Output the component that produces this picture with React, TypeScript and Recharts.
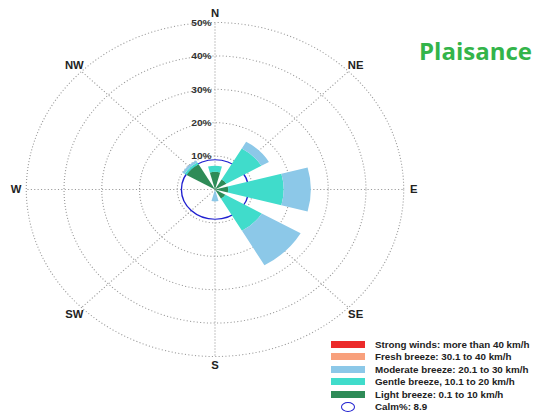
import React from "react";
import {
  RadialBarChart,
  RadialBar,
  PolarGrid,
  PolarAngleAxis,
  PolarRadiusAxis,
  Customized,
} from "recharts";

// wind rose, Plaisance, % of time per direction and speed class
const directions = ["N", "NE", "E", "SE", "S", "SW", "W", "NW"];
const bearings = [0, 45, 90, 135, 180, 225, 270, 315];

const light = [5.3, 3.5, 3.5, 3.2, 0, 0, 0, 8.7];
const gentle = [1.8, 10.7, 14.7, 11.1, 0, 0, 0, 0.6];
const moderate = [0, 2.3, 7.2, 11.9, 3.6, 0, 0, 0.7];
const fresh = [0, 0, 0, 0, 0, 0, 0, 0];
const strong = [0, 0, 0, 0, 0, 0, 0, 0];

const calmPct = 8.9;
const radiusTicks = [10, 20, 30, 40, 50];
const maxPct = 50;

const seriesKeys = ["light", "gentle", "moderate", "fresh", "strong"];
const seriesNames = [
  "Light breeze: 0.1 to 10 km/h",
  "Gentle breeze, 10.1 to 20 km/h",
  "Moderate breeze: 20.1 to 30 km/h",
  "Fresh breeze: 30.1 to 40 km/h",
  "Strong winds: more than 40 km/h",
];
const seriesColors = ["#2e8b57", "#40dccb", "#8cc8e8", "#f8a07c", "#ec2a2a"];

const data = directions.map((dir, i) => ({
  dir,
  bearing: bearings[i],
  light: light[i],
  gentle: gentle[i],
  moderate: moderate[i],
  fresh: fresh[i],
  strong: strong[i],
}));

const CX = 215;
const CY = 189.5;
const OUTER = 167;
const STRETCH = 1.13;
const FONT = "'Liberation Sans', Arial, sans-serif";

const AngleTick = (props: any) => {
  const idx = bearings.indexOf(props.payload.value);
  return (
    <text
      x={props.x}
      y={props.y}
      textAnchor="middle"
      dominantBaseline="central"
      fontSize={10}
      fontWeight="bold"
      fontFamily={FONT}
      fill="#222"
    >
      {directions[idx]}
    </text>
  );
};

const RadiusTick = (props: any) => (
  <text
    x={props.x - 3}
    y={props.y}
    textAnchor="end"
    dominantBaseline="central"
    fontSize={9}
    fontWeight="bold"
    fontFamily={FONT}
    fill="#333"
  >
    {props.payload.value}%
  </text>
);

const CalmCircle = () => (
  <circle
    cx={CX}
    cy={CY}
    r={(calmPct / maxPct) * OUTER}
    fill="none"
    stroke="#2020d0"
    strokeWidth={1.2}
  />
);

const legendText: React.CSSProperties = {
  marginLeft: 10,
  fontSize: 9.5,
  fontWeight: "bold",
  color: "#222",
  whiteSpace: "nowrap",
  display: "inline-block",
  transform: "scaleX(1.03)",
  transformOrigin: "0 50%",
};

export default function App() {
  return (
    <div
      style={{
        position: "absolute",
        left: 0,
        top: 0,
        width: 533,
        height: 414,
        background: "#fff",
        overflow: "hidden",
        fontFamily: FONT,
      }}
    >
      <div
        style={{
          position: "absolute",
          left: 0,
          top: 0,
          width: 430,
          height: 414,
          transform: `scaleX(${STRETCH})`,
          transformOrigin: `${CX}px 0`,
        }}
      >
        <RadialBarChart
          width={430}
          height={414}
          data={data}
          cx={CX}
          cy={CY}
          innerRadius={0}
          outerRadius={OUTER}
          startAngle={90}
          endAngle={-270}
          layout="centric"
          barCategoryGap="16.67%"
          margin={{ top: 0, right: 0, bottom: 0, left: 0 }}
        >
          <PolarGrid gridType="circle" stroke="#999" strokeDasharray="1 2" />
          <PolarAngleAxis
            type="number"
            dataKey="bearing"
            domain={[0, 360]}
            ticks={bearings}
            axisLine={false}
            tickLine={false}
            tickSize={9}
            tick={<AngleTick />}
          />
          <PolarRadiusAxis
            type="number"
            angle={90}
            domain={[0, maxPct]}
            ticks={radiusTicks}
            axisLine={false}
            tickLine={false}
            tick={<RadiusTick />}
          />
          {seriesKeys.map((k, i) => (
            <RadialBar
              key={k}
              dataKey={k}
              stackId="wind"
              fill={seriesColors[i]}
              isAnimationActive={false}
            />
          ))}
          <Customized component={CalmCircle} />
        </RadialBarChart>
      </div>

      <div
        style={{
          position: "absolute",
          left: 419,
          top: 37,
          fontFamily: "'Open Sans', sans-serif",
          fontWeight: 700,
          fontSize: 24,
          lineHeight: "28px",
          color: "#33b44a",
        }}
      >
        Plaisance
      </div>

      <div style={{ position: "absolute", left: 331, top: 338 }}>
        {seriesNames
          .map((name, i) => ({ name, color: seriesColors[i] }))
          .reverse()
          .map((s) => (
            <div
              key={s.name}
              style={{ display: "flex", alignItems: "center", height: 12.5 }}
            >
              <div style={{ width: 34, height: 7, background: s.color }} />
              <span style={legendText}>{s.name}</span>
            </div>
          ))}
        <div style={{ display: "flex", alignItems: "center", height: 12.5 }}>
          <div style={{ width: 34, display: "flex", justifyContent: "center" }}>
            <div
              style={{
                width: 12,
                height: 8,
                border: "1.5px solid #2020d0",
                borderRadius: "50%",
              }}
            />
          </div>
          <span style={legendText}>Calm%: {calmPct}</span>
        </div>
      </div>
    </div>
  );
}
